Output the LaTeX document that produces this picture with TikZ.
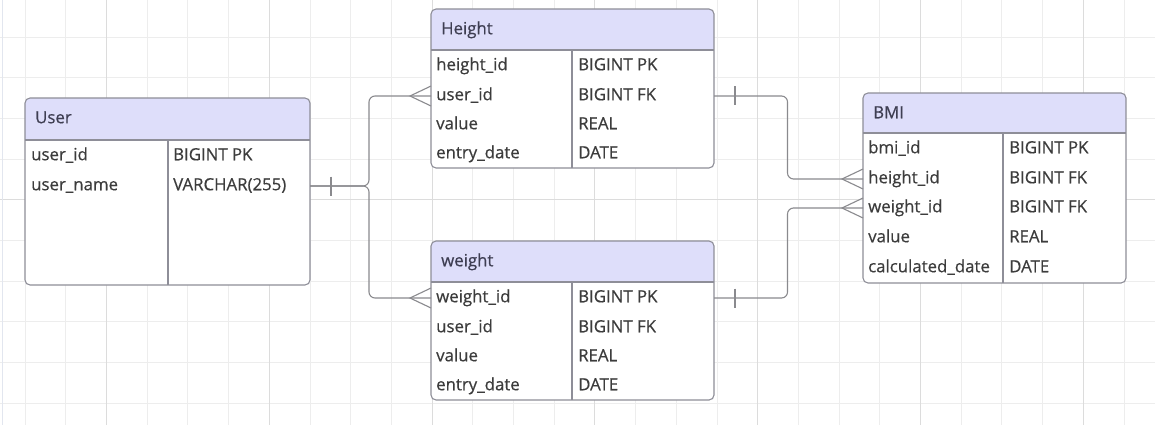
\documentclass[tikz,border=0pt]{standalone}
\usepackage{fontspec}
\setmainfont{Open Sans}
\newfontfamily\erfont{Open Sans}[FakeBold=0.5]
\definecolor{gridc}{HTML}{EDEDED}
\definecolor{gridm}{HTML}{DCDCDC}
\definecolor{edgec}{HTML}{E2E6EF}
\definecolor{bordc}{HTML}{8E8E98}
\definecolor{hdrc}{HTML}{DEDEFA}
\definecolor{ttlc}{HTML}{3E3E52}
\definecolor{txtc}{HTML}{3C3C3C}
\definecolor{connc}{HTML}{8A8A8E}
\newcommand\ertbl[7]{%
  \node[tblbox, minimum width={#4-#2}, minimum height={#6-#3}, anchor=north west] (#1) at (#2,#3) {};
  \begin{scope}
    \clip[rounded corners=5pt] (#2,#3) rectangle (#4,#6);
    \fill[hdr] (#2,#3) rectangle (#4,#5);
  \end{scope}
  \draw[border] (#2,#5) -- (#4,#5);
  \draw[border] (#7,#5) -- (#7,#6);
  \draw[border, rounded corners=5pt] (#1.north west) rectangle (#1.south east);
}
\begin{document}
\begin{tikzpicture}[x=1pt,y=-1pt,
  gridminor/.style={draw=gridc, line width=0.9pt},
  gridmajor/.style={draw=gridm, line width=1.1pt},
  tblbox/.style={rectangle, fill=white, draw=none, inner sep=0pt, outer sep=0pt, rounded corners=5pt},
  border/.style={draw=bordc, line width=1.1pt},
  hdr/.style={fill=hdrc},
  ttl/.style={anchor=west, inner sep=0pt, text=ttlc, font=\erfont\fontsize{16.8}{19}\selectfont, text height=12pt, text depth=3.5pt},
  fld/.style={anchor=west, inner sep=0pt, text=txtc, font=\erfont\fontsize{16.8}{19}\selectfont, text height=12pt, text depth=3.5pt},
  conn/.style={draw=connc, line width=1.1pt, rounded corners=6pt},
  crow/.style={draw=connc, line width=1.1pt},
  tickbar/.style={draw=connc, line width=1.1pt},
]
\useasboundingbox (0,0) rectangle (1155,425);
\fill[white] (0,0) rectangle (1155,425);
% grid
\foreach \k in {-2,...,25} {
  \pgfmathsetmacro\gx{106.5+40.7*\k}
  \draw[gridminor] (\gx,0) -- (\gx,425);
}
\foreach \k in {0,...,9} {
  \pgfmathsetmacro\gy{37+40.7*\k}
  \draw[gridminor] (0,\gy) -- (1155,\gy);
}
\foreach \k in {0,...,6} {
  \pgfmathsetmacro\gx{106.5+162.8*\k}
  \draw[gridmajor] (\gx,0) -- (\gx,425);
}
\draw[gridmajor] (0,199.8) -- (1155,199.8);
\draw[draw=edgec, line width=1pt] (2.5,0) -- (2.5,425);

% User
\ertbl{user}{25}{98}{310}{140}{285}{168}
\node[ttl] (user-t) at (35,119) {User};
\node[fld] (user-1) at (31,156) {user\_id};
\node[fld] (user-1y) at (173,156) {BIGINT PK};
\node[fld] (user-2) at (31,186) {user\_name};
\node[fld] (user-2y) at (173,186) {VARCHAR(255)};

% Height
\ertbl{height}{431}{9}{714}{50}{168}{572}
\node[ttl] (height-t) at (441,30) {Height};
\node[fld] (height-1) at (436,66) {height\_id};
\node[fld] (height-1y) at (578,66) {BIGINT PK};
\node[fld] (height-2) at (436,96) {user\_id};
\node[fld] (height-2y) at (578,96) {BIGINT FK};
\node[fld] (height-3) at (436,125) {value};
\node[fld] (height-3y) at (578,125) {REAL};
\node[fld] (height-4) at (436,154) {entry\_date};
\node[fld] (height-4y) at (578,154) {DATE};

% weight
\ertbl{weight}{431}{241}{714}{282}{400}{572}
\node[ttl] (weight-t) at (441,262) {weight};
\node[fld] (weight-1) at (436,298) {weight\_id};
\node[fld] (weight-1y) at (578,298) {BIGINT PK};
\node[fld] (weight-2) at (436,328) {user\_id};
\node[fld] (weight-2y) at (578,328) {BIGINT FK};
\node[fld] (weight-3) at (436,357) {value};
\node[fld] (weight-3y) at (578,357) {REAL};
\node[fld] (weight-4) at (436,386) {entry\_date};
\node[fld] (weight-4y) at (578,386) {DATE};

% BMI
\ertbl{bmi}{863}{93}{1126}{133}{283}{1003}
\node[ttl] (bmi-t) at (873,114) {BMI};
\node[fld] (bmi-1) at (868,149) {bmi\_id};
\node[fld] (bmi-1y) at (1009,149) {BIGINT PK};
\node[fld] (bmi-2) at (868,179) {height\_id};
\node[fld] (bmi-2y) at (1009,179) {BIGINT FK};
\node[fld] (bmi-3) at (868,208) {weight\_id};
\node[fld] (bmi-3y) at (1009,208) {BIGINT FK};
\node[fld] (bmi-4) at (868,238) {value};
\node[fld] (bmi-4y) at (1009,238) {REAL};
\node[fld] (bmi-5) at (868,268) {calculated\_date};
\node[fld] (bmi-5y) at (1009,268) {DATE};

% connectors
\draw[conn] (user.east |- user-2) -- ++(59,0) |- (height.west |- height-2);
\draw[conn] (user.east |- user-2) -- ++(59,0) |- (weight.west |- weight-1);
\draw[conn] (height.east |- height-2) -- ++(73.5,0) |- (bmi.west |- bmi-2);
\draw[conn] (weight.east |- weight-1) -- ++(73.5,0) |- (bmi.west |- bmi-3);
% one-marks
\draw[tickbar] (user.east |- user-2) ++(21,-9.5) -- ++(0,19);
\draw[tickbar] (height.east |- height-2) ++(21,-9.5) -- ++(0,19);
\draw[tickbar] (weight.east |- weight-1) ++(21,-9.5) -- ++(0,19);
% crow's feet
\draw[crow] (height.west |- height-2) ++(0,-10) -- ++(-21,10) -- ++(21,10);
\draw[crow] (weight.west |- weight-1) ++(0,-10) -- ++(-21,10) -- ++(21,10);
\draw[crow] (bmi.west |- bmi-2) ++(0,-10) -- ++(-21,10) -- ++(21,10);
\draw[crow] (bmi.west |- bmi-3) ++(0,-10) -- ++(-21,10) -- ++(21,10);
\end{tikzpicture}
\end{document}
